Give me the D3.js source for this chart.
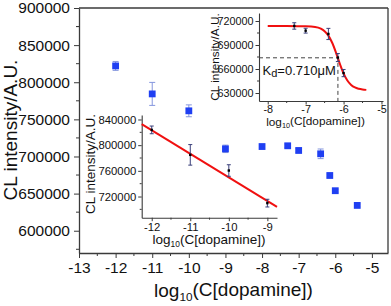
<!DOCTYPE html>
<html><head><meta charset="utf-8">
<script src="https://cdn.jsdelivr.net/npm/d3@7"></script>
<style>
html,body{margin:0;padding:0;background:#fff;}
svg{display:block;font-family:"Liberation Sans",Arial,sans-serif;}
</style></head>
<body>
<svg id="c" width="391" height="306"></svg>
<script>
// ---- main data ----
const mainX   = [-12, -11, -10, -9, -8, -7.3, -7, -6.4, -6.15, -6, -5.4];
const mainY   = [822000, 784300, 761500, 710300, 713400, 714400, 708100, 703600, 674400, 653900, 634100];
const mainErr = [6000, 15500, 8000, 5000, 2000, 2500, 2500, 6500, 2000, 2000, 2000];
const mainXTicks = [-13, -12, -11, -10, -9, -8, -7, -6, -5];
const mainYTicks = [600000, 650000, 700000, 750000, 800000, 850000, 900000];

// ---- lower inset (linear range) ----
const linX   = [-12, -11, -10, -9];
const linY   = [823800, 784900, 760500, 709700];
const linErr = [6000, 16000, 9000, 6000];
const linSlope = -36730;
const linIntercept = 382470;
const linXTicks = [-12, -11, -10, -9];
const linYTicks = [720000, 760000, 800000, 840000];

// ---- upper inset (binding curve) ----
const kdX   = [-7.3, -7, -6.4, -6.15, -6];
const kdY   = [713800, 707900, 703800, 674300, 654900];
const kdErr = [4000, 3000, 7000, 5000, 4500];
const fitX  = [-8, -7.5, -7, -6.75, -6.6, -6.5, -6.4, -6.3, -6.2, -6.15, -6.1, -6.0, -5.9, -5.8, -5.7, -5.6, -5.5, -5.4];
const fitY  = [713800, 713700, 713300, 712500, 710400, 707200, 701700, 692800, 680500, 673600, 666800, 654500, 645600, 640100, 636900, 635300, 634400, 633900];
const kdLog = -6.149;
const kdLevel = 674000;
const kdXTicks = [-8, -7, -6, -5];
const kdYTicks = [630000, 660000, 690000, 720000];

const svg = d3.select("#c");
const AX = "#3a3a3a";
const BLUE = "#1f3ff2";

function sub(textSel, pre, s, post) {
  textSel.append("tspan").text(pre);
  textSel.append("tspan").attr("font-size", "0.62em").attr("dy", "0.35em").text(s);
  textSel.append("tspan").attr("dy", "-0.22em").text(post);
}

function minorTicks(ticks) {
  const out = [];
  for (let i = 0; i < ticks.length - 1; i++) out.push((ticks[i] + ticks[i + 1]) / 2);
  return out;
}

function drawAxes(g, x, y, xt, yt, opt) {
  const [x0, x1] = x.range(), [y0, y1] = y.range();
  const xm = minorTicks(xt), ym = minorTicks(yt);
  if (opt.extraXMinor) xm.push(...opt.extraXMinor);
  if (opt.extraYMinor) ym.push(...opt.extraYMinor);
  g.append("g").selectAll("line").data(xm.filter(v => x(v) >= x0 - 0.5 && x(v) <= x1 + 0.5)).join("line")
    .attr("x1", d => x(d)).attr("x2", d => x(d)).attr("y1", y0).attr("y2", y0 + opt.minor)
    .attr("stroke", AX).attr("stroke-width", 1);
  g.append("g").selectAll("line").data(ym.filter(v => y(v) <= y0 + 0.5 && y(v) >= y1 - 0.5)).join("line")
    .attr("y1", d => y(d)).attr("y2", d => y(d)).attr("x1", x0).attr("x2", x0 - opt.minor)
    .attr("stroke", AX).attr("stroke-width", 1);
  const xa = g.append("g").attr("transform", `translate(0,${y0})`)
    .call(d3.axisBottom(x).tickValues(xt).tickSize(opt.major).tickSizeOuter(0).tickPadding(opt.xpad).tickFormat(d3.format("d")));
  const ya = g.append("g").attr("transform", `translate(${x0},0)`)
    .call(d3.axisLeft(y).tickValues(yt).tickSize(opt.major).tickSizeOuter(0).tickPadding(opt.ypad).tickFormat(d3.format("d")));
  [xa, ya].forEach(a => {
    a.select(".domain").attr("stroke", AX).attr("stroke-width", opt.lw);
    a.selectAll(".tick line").attr("stroke", AX).attr("stroke-width", 1);
    a.selectAll("text").attr("fill", "#111").attr("font-size", opt.fs).attr("font-family", '"Liberation Sans",Arial,sans-serif');
  });
  xa.selectAll("text").text(d => d < 0 ? "-" + Math.abs(d) : d);
}

// ================= MAIN =================
const mx = d3.scaleLinear().domain([-13, -4.56]).range([79, 388]);
const my = d3.scaleLinear().domain([570000, 900000]).range([253, 8]);
const gm = svg.append("g");
drawAxes(gm, mx, my, mainXTicks, mainYTicks, {major: 5, minor: 3, xpad: 4, ypad: 4, fs: 15.5, lw: 1.3,
  extraYMinor: [575000, 875000]});
gm.append("line").attr("x1", 79).attr("x2", 388).attr("y1", 8).attr("y2", 8).attr("stroke", AX).attr("stroke-width", 1.3);
gm.append("line").attr("x1", 388).attr("x2", 388).attr("y1", 8).attr("y2", 253).attr("stroke", AX).attr("stroke-width", 1.3);

const mainData = mainX.map((v, i) => ({x: v, y: mainY[i], e: mainErr[i]}));
const eb = gm.append("g").attr("stroke", "#8596de").attr("stroke-width", 1);
mainData.forEach(d => {
  const cx = mx(d.x), t = my(d.y + d.e), b = my(d.y - d.e);
  eb.append("line").attr("x1", cx).attr("x2", cx).attr("y1", t).attr("y2", b);
  eb.append("line").attr("x1", cx - 3).attr("x2", cx + 3).attr("y1", t).attr("y2", t);
  eb.append("line").attr("x1", cx - 3).attr("x2", cx + 3).attr("y1", b).attr("y2", b);
});
gm.append("g").selectAll("rect").data(mainData).join("rect")
  .attr("x", d => mx(d.x) - 3.4).attr("y", d => my(d.y) - 3.4).attr("width", 6.8).attr("height", 6.8)
  .attr("fill", BLUE);

sub(svg.append("text").attr("x", 233.5).attr("y", 296.5).attr("text-anchor", "middle").attr("font-size", 19).attr("fill", "#111"),
  "log", "10", "(C[dopamine])");
svg.append("text").attr("transform", "translate(17,130) rotate(-90)").attr("text-anchor", "middle")
  .attr("font-size", 19).attr("fill", "#111").text("CL intensity/A.U.");

// ================= LOWER INSET =================
const lx = d3.scaleLinear().domain([-12.26, -8.75]).range([141.7, 277]);
const ly = d3.scaleLinear().domain([687000, 847000]).range([217.7, 115]);
const gl = svg.append("g");
drawAxes(gl, lx, ly, linXTicks, linYTicks, {major: 3.5, minor: 2, xpad: 1.5, ypad: 2, fs: 11.3, lw: 1.1,
  extraYMinor: [700000]});
gl.append("line")
  .attr("x1", lx(lx.domain()[0])).attr("y1", ly(linIntercept + linSlope * lx.domain()[0]))
  .attr("x2", lx(lx.domain()[1])).attr("y2", ly(linIntercept + linSlope * lx.domain()[1]))
  .attr("stroke", "#f01010").attr("stroke-width", 2);
const linData = linX.map((v, i) => ({x: v, y: linY[i], e: linErr[i]}));
const eb2 = gl.append("g").attr("stroke", "#3a3f7a").attr("stroke-width", 1);
linData.forEach(d => {
  const cx = lx(d.x), t = ly(d.y + d.e), b = ly(d.y - d.e);
  eb2.append("line").attr("x1", cx).attr("x2", cx).attr("y1", t).attr("y2", b);
  eb2.append("line").attr("x1", cx - 2).attr("x2", cx + 2).attr("y1", t).attr("y2", t);
  eb2.append("line").attr("x1", cx - 2).attr("x2", cx + 2).attr("y1", b).attr("y2", b);
});
gl.append("g").selectAll("rect").data(linData).join("rect")
  .attr("x", d => lx(d.x) - 1.2).attr("y", d => ly(d.y) - 1.2).attr("width", 2.4).attr("height", 2.4).attr("fill", "#000");
sub(svg.append("text").attr("x", 209).attr("y", 244).attr("text-anchor", "middle").attr("font-size", 13.5).attr("fill", "#111"),
  "log", "10", "(C[dopamine])");
svg.append("text").attr("transform", "translate(95,164) rotate(-90)").attr("text-anchor", "middle")
  .attr("font-size", 13.5).attr("fill", "#111").text("CL intensity/A.U.");

// ================= UPPER INSET =================
const kx = d3.scaleLinear().domain([-8.23, -4.96]).range([259, 383]);
const ky = d3.scaleLinear().domain([620000, 730000]).range([101, 13]);
const gk = svg.append("g");
drawAxes(gk, kx, ky, kdXTicks, kdYTicks, {major: 3.5, minor: 2, xpad: 1, ypad: 2, fs: 10.8, lw: 1.1});
gk.append("path")
  .attr("d", `M${kx(kx.domain()[0])},${ky(kdLevel)}H${kx(kdLog)}V${ky(ky.domain()[0])}`)
  .attr("fill", "none").attr("stroke", "#444").attr("stroke-width", 1).attr("stroke-dasharray", "4,3");
gk.append("path").datum(fitX.map((v, i) => [v, fitY[i]]))
  .attr("d", d3.line().x(d => kx(d[0])).y(d => ky(d[1])).curve(d3.curveMonotoneX))
  .attr("fill", "none").attr("stroke", "#f01010").attr("stroke-width", 2);
const kdData = kdX.map((v, i) => ({x: v, y: kdY[i], e: kdErr[i]}));
const eb3 = gk.append("g").attr("stroke", "#3a3f7a").attr("stroke-width", 1);
kdData.forEach(d => {
  const cx = kx(d.x), t = ky(d.y + d.e), b = ky(d.y - d.e);
  eb3.append("line").attr("x1", cx).attr("x2", cx).attr("y1", t).attr("y2", b);
  eb3.append("line").attr("x1", cx - 2).attr("x2", cx + 2).attr("y1", t).attr("y2", t);
  eb3.append("line").attr("x1", cx - 2).attr("x2", cx + 2).attr("y1", b).attr("y2", b);
});
gk.append("g").selectAll("rect").data(kdData).join("rect")
  .attr("x", d => kx(d.x) - 1.2).attr("y", d => ky(d.y) - 1.2).attr("width", 2.4).attr("height", 2.4).attr("fill", "#000");
const kt = svg.append("text").attr("x", 262.5).attr("y", 75).attr("font-size", 13).attr("fill", "#111");
kt.append("tspan").text("K");
kt.append("tspan").attr("font-size", "0.85em").attr("dy", "0.2em").text("d");
kt.append("tspan").attr("dy", "-0.17em").text("=0.710\u03bcM");
sub(svg.append("text").attr("x", 315.5).attr("y", 125.5).attr("text-anchor", "middle").attr("font-size", 11.8).attr("fill", "#111"),
  "log", "10", "(C[dopamine])");
svg.append("text").attr("transform", "translate(218.5,57) rotate(-90)").attr("text-anchor", "middle")
  .attr("font-size", 11.8).attr("fill", "#111").text("CL intensity/A.U.");
</script>
</body></html>
